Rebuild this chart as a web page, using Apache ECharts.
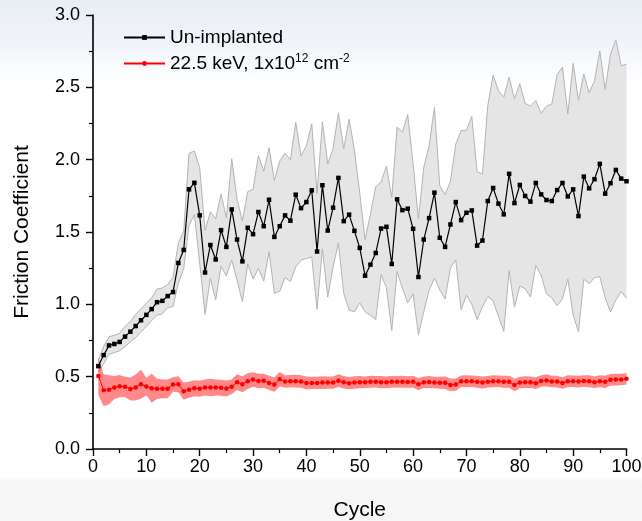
<!DOCTYPE html>
<html>
<head>
<meta charset="utf-8">
<script src="https://cdn.jsdelivr.net/npm/echarts@6/dist/echarts.min.js"></script>
<style>
  html, body { margin: 0; padding: 0; }
  body {
    width: 642px; height: 521px;
    background: linear-gradient(to bottom, #e8edf4 0px, #f1f5fa 45px, #ffffff 85px, #ffffff 476px, #f6f6f6 482px, #f6f6f6 521px);
  }
  #chart { width: 642px; height: 521px; }
</style>
</head>
<body>
<div id="chart"></div>
<script>
// Friction coefficient per sliding cycle: mean values and standard deviations.
const cycles = Array.from({ length: 100 }, (_, i) => i + 1);

const unimplantedMean = [
  0.573, 0.649, 0.716, 0.726, 0.740, 0.777, 0.811, 0.850, 0.890, 0.927,
  0.967, 1.015, 1.024, 1.057, 1.085, 1.286, 1.376, 1.795, 1.840, 1.615,
  1.220, 1.410, 1.310, 1.513, 1.397, 1.656, 1.448, 1.297, 1.529, 1.485,
  1.638, 1.540, 1.723, 1.466, 1.540, 1.615, 1.578, 1.758, 1.665, 1.707,
  1.788, 1.365, 1.823, 1.510, 1.668, 1.874, 1.575, 1.620, 1.508, 1.390,
  1.198, 1.274, 1.355, 1.524, 1.536, 1.279, 1.726, 1.651, 1.661, 1.522,
  1.189, 1.448, 1.596, 1.772, 1.460, 1.397, 1.552, 1.707, 1.582, 1.633,
  1.649, 1.406, 1.441, 1.714, 1.804, 1.696, 1.622, 1.902, 1.700, 1.825,
  1.749, 1.710, 1.839, 1.760, 1.721, 1.714, 1.790, 1.839, 1.746, 1.795,
  1.610, 1.883, 1.802, 1.865, 1.971, 1.765, 1.837, 1.929, 1.869, 1.851
];

const unimplantedSD = [
  0.04, 0.06, 0.06, 0.06, 0.06, 0.07, 0.07, 0.08, 0.08, 0.08,
  0.08, 0.09, 0.09, 0.08, 0.10, 0.14, 0.13, 0.25, 0.22, 0.33,
  0.29, 0.23, 0.28, 0.25, 0.20, 0.35, 0.28, 0.28, 0.25, 0.31,
  0.39, 0.38, 0.36, 0.39, 0.45, 0.43, 0.42, 0.50, 0.36, 0.39,
  0.46, 0.40, 0.44, 0.46, 0.41, 0.45, 0.50, 0.66, 0.56, 0.38,
  0.25, 0.35, 0.46, 0.32, 0.42, 0.46, 0.50, 0.54, 0.65, 0.45,
  0.40, 0.50, 0.50, 0.59, 0.36, 0.36, 0.30, 0.40, 0.62, 0.57,
  0.65, 0.51, 0.46, 0.66, 0.78, 0.78, 0.81, 0.67, 0.72, 0.70,
  0.64, 0.66, 0.57, 0.56, 0.65, 0.67, 0.80, 0.80, 0.57, 0.87,
  0.80, 0.71, 0.66, 0.68, 0.78, 0.72, 0.89, 0.90, 0.78, 0.81
];

const implantedMean = [
  0.505, 0.406, 0.410, 0.425, 0.434, 0.430, 0.415, 0.425, 0.448, 0.432,
  0.420, 0.416, 0.416, 0.416, 0.446, 0.448, 0.400, 0.410, 0.420, 0.416,
  0.425, 0.425, 0.425, 0.423, 0.418, 0.430, 0.462, 0.448, 0.469, 0.480,
  0.470, 0.472, 0.457, 0.446, 0.482, 0.466, 0.469, 0.469, 0.466, 0.457,
  0.457, 0.457, 0.459, 0.459, 0.459, 0.472, 0.462, 0.455, 0.460, 0.462,
  0.462, 0.465, 0.465, 0.462, 0.462, 0.465, 0.465, 0.465, 0.463, 0.465,
  0.448, 0.462, 0.463, 0.460, 0.458, 0.458, 0.443, 0.445, 0.468, 0.468,
  0.468, 0.465, 0.460, 0.465, 0.468, 0.468, 0.465, 0.465, 0.442, 0.460,
  0.462, 0.462, 0.455, 0.470, 0.474, 0.466, 0.466, 0.456, 0.468, 0.468,
  0.466, 0.470, 0.468, 0.462, 0.468, 0.464, 0.478, 0.480, 0.480, 0.485
];

const implantedSD = [
  0.130, 0.110, 0.100, 0.080, 0.077, 0.070, 0.080, 0.090, 0.100, 0.060,
  0.100, 0.070, 0.065, 0.065, 0.050, 0.055, 0.060, 0.055, 0.055, 0.055,
  0.055, 0.060, 0.055, 0.055, 0.055, 0.050, 0.055, 0.055, 0.055, 0.050,
  0.050, 0.048, 0.050, 0.050, 0.050, 0.043, 0.042, 0.044, 0.043, 0.045,
  0.042, 0.043, 0.044, 0.042, 0.043, 0.044, 0.043, 0.042, 0.043, 0.042,
  0.040, 0.041, 0.040, 0.042, 0.040, 0.041, 0.040, 0.042, 0.040, 0.041,
  0.042, 0.040, 0.041, 0.040, 0.042, 0.043, 0.044, 0.042, 0.040, 0.041,
  0.040, 0.042, 0.041, 0.040, 0.041, 0.040, 0.042, 0.041, 0.043, 0.040,
  0.041, 0.040, 0.041, 0.040, 0.042, 0.040, 0.041, 0.040, 0.041, 0.040,
  0.041, 0.040, 0.041, 0.040, 0.041, 0.042, 0.040, 0.041, 0.040, 0.040
];

const xTicks = [0, 10, 20, 30, 40, 50, 60, 70, 80, 90, 100];
const yTicks = [0.0, 0.5, 1.0, 1.5, 2.0, 2.5, 3.0];

const seriesNames = ['Un-implanted', '22.5 keV, 1x10{sup|12} cm{sup|-2}'];

// [cycle, value] pairs for the mean curves; [cycle, mean-SD, mean+SD] rows for the bands.
const pairs = (vals) => cycles.map((c, i) => [c, vals[i]]);
const bandRows = (m, s) => cycles.map((c, i) => [c, m[i] - s[i], m[i] + s[i]]);

// Draws a whole ±SD band as one filled polygon (plus optional edge lines),
// mapping every row through the chart's coordinate system.
function makeBandSeries(rows, fill, edge, z) {
  return {
    type: 'custom',
    silent: true,
    z: z,
    data: rows,
    encode: { x: 0, y: [1, 2] },
    clip: true,
    renderItem: function (params, api) {
      if (params.dataIndex !== 0) return null;
      const upper = rows.map((r) => api.coord([r[0], r[2]]));
      const lower = rows.map((r) => api.coord([r[0], r[1]]));
      const poly = upper.concat(lower.slice().reverse());
      const children = [{
        type: 'polygon',
        shape: { points: poly },
        style: { fill: fill, stroke: null }
      }];
      if (edge) {
        children.push({ type: 'polyline', shape: { points: upper }, style: { fill: null, stroke: edge, lineWidth: 1 } });
        children.push({ type: 'polyline', shape: { points: lower }, style: { fill: null, stroke: edge, lineWidth: 1 } });
      }
      return { type: 'group', children: children };
    }
  };
}

const FONT = '"Liberation Sans", Arial, sans-serif';

const chart = echarts.init(document.getElementById('chart'), null, { renderer: 'canvas' });

const axisCommon = {
  axisLine: { show: true, lineStyle: { color: '#000', width: 1.6 } },
  axisTick: { show: true, inside: false, length: 7, lineStyle: { color: '#000', width: 1.4 } },
  minorTick: { show: true, splitNumber: 2, length: 4, lineStyle: { color: '#000', width: 1.2 } },
  splitLine: { show: false },
  axisLabel: { color: '#000', fontSize: 18, fontFamily: FONT },
  nameTextStyle: { color: '#000', fontSize: 21, fontFamily: FONT }
};

chart.setOption({
  animation: false,
  backgroundColor: 'transparent',
  grid: {
    left: 93, right: 15.5, top: 15, bottom: 72,
    containLabel: false,
    outerBoundsMode: 'none'
  },
  legend: {
    data: [
      { name: seriesNames[0] },
      { name: seriesNames[1] }
    ],
    orient: 'vertical',
    left: 123,
    top: 27,
    padding: 0,
    itemWidth: 41,
    itemHeight: 6,
    itemGap: 5,
    selectedMode: false,
    textStyle: {
      color: '#000', fontSize: 19, fontFamily: FONT, lineHeight: 21,
      rich: {
        sup: { fontSize: 12, fontFamily: FONT, color: '#000', verticalAlign: 'top', lineHeight: 12 }
      }
    }
  },
  xAxis: Object.assign({}, axisCommon, {
    type: 'value',
    min: xTicks[0],
    max: xTicks[xTicks.length - 1],
    interval: xTicks[1] - xTicks[0],
    name: 'Cycle',
    nameLocation: 'middle',
    nameGap: 51,
    axisLabel: Object.assign({}, axisCommon.axisLabel, { margin: 9 })
  }),
  yAxis: Object.assign({}, axisCommon, {
    type: 'value',
    min: yTicks[0],
    max: yTicks[yTicks.length - 1],
    interval: yTicks[1] - yTicks[0],
    name: 'Friction Coefficient',
    nameLocation: 'middle',
    nameGap: 60,
    axisLabel: Object.assign({}, axisCommon.axisLabel, {
      margin: 13,
      formatter: (v) => v.toFixed(1)
    })
  }),
  series: [
    // grey ±SD band of the un-implanted sample
    makeBandSeries(bandRows(unimplantedMean, unimplantedSD), '#e5e5e5', '#b3b3b3', 1),
    // red ±SD band of the implanted sample
    makeBandSeries(bandRows(implantedMean, implantedSD), 'rgba(255,40,40,0.55)', null, 2),
    // mean curves
    {
      name: seriesNames[0], type: 'line', data: pairs(unimplantedMean), z: 5,
      color: '#000',
      symbol: 'rect', symbolSize: 4.5, showSymbol: true,
      lineStyle: { color: '#000', width: 1.2 },
      itemStyle: { color: '#000' }
    },
    {
      name: seriesNames[1], type: 'line', data: pairs(implantedMean), z: 6,
      color: '#ff0000',
      symbol: 'circle', symbolSize: 4.5, showSymbol: true,
      lineStyle: { color: '#ff0000', width: 1 },
      itemStyle: { color: '#ff0000' }
    }
  ]
});
</script>
</body>
</html>
